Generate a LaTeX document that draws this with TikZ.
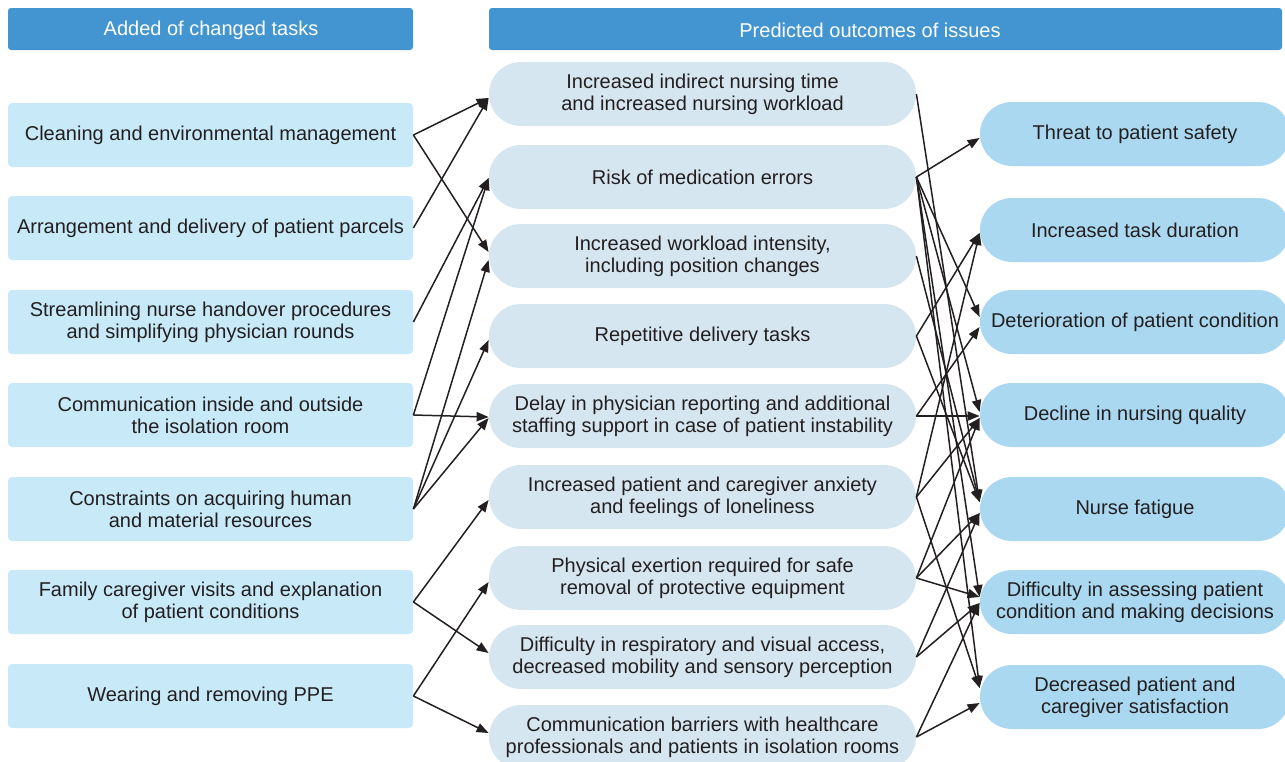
\documentclass[tikz,border=0pt]{standalone}
\usepackage{fontspec}
\setmainfont{Liberation Sans}
\usetikzlibrary{arrows.meta}
\definecolor{hdrblue}{RGB}{67,149,209}
\definecolor{taskfill}{RGB}{200,234,248}
\definecolor{issuefill}{RGB}{214,230,240}
\definecolor{outfill}{RGB}{170,216,240}
\definecolor{ink}{RGB}{35,31,32}
\begin{document}
\begin{tikzpicture}[x=0.5pt,y=-0.5pt,
  every node/.style={font=\fontsize{10pt}{11pt}\selectfont, text=ink, inner sep=0pt, align=center},
  hdr/.style={fill=hdrblue, rounded corners=1.5pt, minimum height=21pt},
  hdrtext/.style={text=white},
  task/.style={fill=taskfill, rounded corners=2pt, minimum width=202.5pt, minimum height=32pt},
  issue/.style={fill=issuefill, rounded corners=16pt, minimum width=213.5pt, minimum height=32pt},
  outcome/.style={fill=outfill, rounded corners=16pt, minimum width=155pt, minimum height=32pt},
  link/.style={draw=ink, line width=0.75pt, -{Triangle[length=6pt,width=4.6pt]}}]
\useasboundingbox (0,0) rectangle (1285,761);

% column headers
\node[hdr, minimum width=202.5pt] (H1) at (210.5,29) {};
\node[hdrtext] (H1t) at (211,30) {Added of changed tasks};
\node[hdr, minimum width=396.5pt] (H2) at (885.5,29) {};
\node[hdrtext] (H2t) at (870,30) {Predicted outcomes of issues};

% added or changed tasks
\node[task] (L1) at (210.5,135) {Cleaning and environmental management};
\node[task] (L2) at (210.5,228) {Arrangement and delivery of patient parcels};
\node[task] (L3) at (210.5,322) {Streamlining nurse handover procedures\\and simplifying physician rounds};
\node[task] (L4) at (210.5,415) {Communication inside and outside\\the isolation room};
\node[task] (L5) at (210.5,509) {Constraints on acquiring human\\and material resources};
\node[task] (L6) at (210.5,602) {Family caregiver visits and explanation\\of patient conditions};
\node[task] (L7) at (210.5,696) {Wearing and removing PPE};

% issues
\node[issue] (M1) at (702.5,94) {Increased indirect nursing time\\and increased nursing workload};
\node[issue] (M2) at (702.5,177) {Risk of medication errors};
\node[issue] (M3) at (702.5,256) {Increased workload intensity,\\including position changes};
\node[issue] (M4) at (702.5,336) {Repetitive delivery tasks};
\node[issue] (M5) at (702.5,416) {Delay in physician reporting and additional\\staffing support in case of patient instability};
\node[issue] (M6) at (702.5,497) {Increased patient and caregiver anxiety\\and feelings of loneliness};
\node[issue] (M7) at (702.5,578) {Physical exertion required for safe\\removal of protective equipment};
\node[issue] (M8) at (702.5,657) {Difficulty in respiratory and visual access,\\decreased mobility and sensory perception};
\node[issue] (M9) at (702.5,737) {Communication barriers with healthcare\\professionals and patients in isolation rooms};

% outcomes
\node[outcome] (R1) at (1135,134) {Threat to patient safety};
\node[outcome] (R2) at (1135,230) {Increased task duration};
\node[outcome] (R3) at (1135,322) {Deterioration of patient condition};
\node[outcome] (R4) at (1135,415) {Decline in nursing quality};
\node[outcome] (R5) at (1135,509) {Nurse fatigue};
\node[outcome] (R6) at (1135,602) {Difficulty in assessing patient\\condition and making decisions};
\node[outcome] (R7) at (1135,697) {Decreased patient and\\caregiver satisfaction};

% tasks -> issues
\draw[link] (L1.east) -- ([yshift=-2pt]M1.west);
\draw[link] (L2.east) -- ([yshift=-2pt]M1.west);
\draw[link] (L3.east) -- ([yshift=-0.5pt]M2.west);
\draw[link] (L4.east) -- ([yshift=-0.5pt]M2.west);
\draw[link] (L1.east) -- ([yshift=2pt]M3.west);
\draw[link] (L5.east) -- ([yshift=-2pt]M3.west);
\draw[link] (L5.east) -- ([yshift=-2pt]M4.west);
\draw[link] (L4.east) -- ([yshift=-0.5pt]M5.west);
\draw[link] (L5.east) -- ([yshift=-1pt]M5.west);
\draw[link] (L6.east) -- ([yshift=-1.5pt]M6.west);
\draw[link] (L6.east) -- ([yshift=2pt]M8.west);
\draw[link] (L7.east) -- ([yshift=-2pt]M7.west);
\draw[link] (L7.east) -- ([yshift=2pt]M9.west);

% issues -> outcomes
\draw[link] (M2.east) -- ([yshift=-2pt]R1.west);
\draw[link] (M4.east) -- ([yshift=-1.5pt]R2.west);
\draw[link] (M6.east) -- ([yshift=-1.5pt]R2.west);
\draw[link] (M2.east) -- ([yshift=2.5pt]R3.west);
\draw[link] (M5.east) -- ([yshift=-2.5pt]R3.west);
\draw[link] (M2.east) -- ([yshift=1.5pt]R4.west);
\draw[link] (M5.east) -- ([yshift=-0.5pt]R4.west);
\draw[link] (M6.east) -- ([yshift=-1.5pt]R4.west);
\draw[link] (M7.east) -- ([yshift=-1.5pt]R4.west);
\draw[link] (M1.east) -- ([yshift=3.5pt]R5.west);
\draw[link] (M3.east) -- ([yshift=3.5pt]R5.west);
\draw[link] (M4.east) -- ([yshift=3.5pt]R5.west);
\draw[link] (M7.east) -- ([yshift=-2pt]R5.west);
\draw[link] (M8.east) -- ([yshift=-2pt]R5.west);
\draw[link] (M2.east) -- ([yshift=2.5pt]R6.west);
\draw[link] (M7.east) -- ([yshift=2.5pt]R6.west);
\draw[link] (M8.east) -- ([yshift=-0.5pt]R6.west);
\draw[link] (M9.east) -- ([yshift=-0.5pt]R6.west);
\draw[link] (M2.east) -- ([yshift=4.5pt]R7.west);
\draw[link] (M6.east) -- ([yshift=4.5pt]R7.west);
\draw[link] (M9.east) -- ([yshift=-3pt]R7.west);
\end{tikzpicture}
\end{document}
